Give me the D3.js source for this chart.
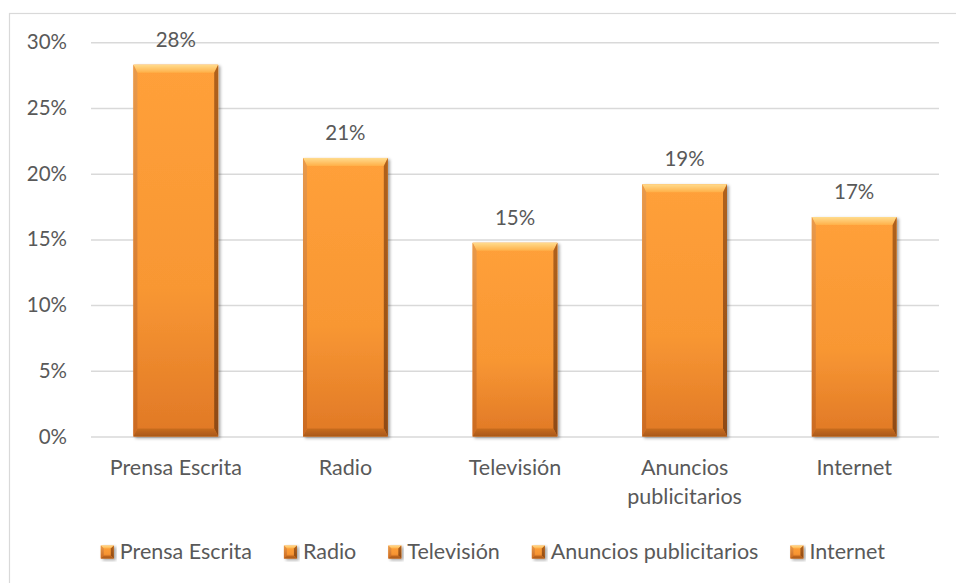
<!DOCTYPE html>
<html>
<head>
<meta charset="utf-8">
<script src="https://cdn.jsdelivr.net/npm/d3@7"></script>
<style>
  html, body { margin: 0; padding: 0; background: #fff; }
  svg { display: block; font-family: Lato, "Open Sans", sans-serif; }
</style>
</head>
<body>
<svg id="chart" width="956" height="583"></svg>
<script>
// Media categories and share of responses
const categories = ["Prensa Escrita", "Radio", "Televisión", "Anuncios publicitarios", "Internet"];
const values = [0.283, 0.212, 0.1475, 0.192, 0.167];
// Axis category labels, wrapped into lines
const categoryLines = [["Prensa Escrita"], ["Radio"], ["Televisión"], ["Anuncios", "publicitarios"], ["Internet"]];
const yTicks = [0, 0.05, 0.10, 0.15, 0.20, 0.25, 0.30];

const svg = d3.select("#chart");
const W = 956, H = 583;
const plot = { left: 91, right: 939, top: 42.3, bottom: 436.5 };
const textColor = "#595959";
const numSize = 20.5, labelSize = 21.5;
const fmt = d3.format(".0%");

// Outer chart frame
svg.append("rect")
  .attr("x", 9.5).attr("y", 13.5)
  .attr("width", W).attr("height", H)
  .attr("fill", "#fff").attr("stroke", "#D9D9D9").attr("stroke-width", 1.2);

const defs = svg.append("defs");

function grad(id, stops) {
  const g = defs.append("linearGradient").attr("id", id)
    .attr("x1", 0).attr("y1", 0).attr("x2", 0).attr("y2", 1);
  stops.forEach(s => g.append("stop").attr("offset", s[0]).attr("stop-color", s[1]));
}
grad("face", [[0, "#FFA03A"], [0.6, "#F89733"], [1, "#E07826"]]);
grad("topBevel", [[0, "#FFDC8E"], [1, "#FFB048"]]);
grad("leftBevel", [[0, "#E89A4C"], [1, "#CB6A20"]]);
grad("rightBevel", [[0, "#B0621F"], [1, "#8E4A14"]]);
grad("bottomBevel", [[0, "#C86C20"], [1, "#A95818"]]);

const shadow = defs.append("filter").attr("id", "shadow")
  .attr("x", "-20%").attr("y", "-10%").attr("width", "140%").attr("height", "130%");
shadow.append("feDropShadow").attr("dx", 2).attr("dy", 1.5)
  .attr("stdDeviation", 1.6).attr("flood-color", "#000").attr("flood-opacity", 0.35);

// Scales
const x = d3.scaleBand().domain(categories)
  .range([plot.left, plot.right]).paddingInner(0.5).paddingOuter(0.25);
const y = d3.scaleLinear().domain([0, 0.30]).range([plot.bottom, plot.top]);

// Gridlines and y tick labels
const yAxis = d3.axisLeft(y).tickValues(yTicks).tickFormat(fmt)
  .tickSize(-(plot.right - plot.left)).tickPadding(24);
const gy = svg.append("g").attr("transform", `translate(${plot.left},0)`).call(yAxis);
gy.select(".domain").remove();
gy.selectAll(".tick line").attr("stroke", "#D9D9D9").attr("stroke-width", 1.5);
gy.selectAll(".tick text")
  .attr("fill", textColor).attr("font-size", numSize)
  .attr("font-family", "Lato, sans-serif");

// Bevelled block: face plus four edge facets
function bevelBlock(g, x0, y0, w, h, tb, sb) {
  const x1 = x0 + w, y1 = y0 + h;
  g.append("rect").attr("x", x0).attr("y", y0).attr("width", w).attr("height", h)
    .attr("fill", "url(#face)");
  const poly = (pts, fill) => g.append("polygon")
    .attr("points", pts.map(p => p.join(",")).join(" ")).attr("fill", fill);
  poly([[x0, y0], [x1, y0], [x1 - sb, y0 + tb], [x0 + sb, y0 + tb]], "url(#topBevel)");
  poly([[x0, y0], [x0 + sb, y0 + tb], [x0 + sb, y1 - tb], [x0, y1]], "url(#leftBevel)");
  poly([[x1, y0], [x1, y1], [x1 - sb, y1 - tb], [x1 - sb, y0 + tb]], "url(#rightBevel)");
  poly([[x0, y1], [x0 + sb, y1 - tb], [x1 - sb, y1 - tb], [x1, y1]], "url(#bottomBevel)");
}

// Bars
const bars = svg.append("g").selectAll("g.bar")
  .data(categories.map((c, i) => ({ c, v: values[i] })))
  .join("g").attr("class", "bar").attr("filter", "url(#shadow)");
bars.each(function (d) {
  const g = d3.select(this);
  bevelBlock(g, x(d.c), y(d.v), x.bandwidth(), y(0) - y(d.v), 8, 4);
});

// Value labels
svg.append("g").selectAll("text")
  .data(categories.map((c, i) => ({ c, v: values[i] })))
  .join("text")
  .attr("x", d => x(d.c) + x.bandwidth() / 2)
  .attr("y", d => y(d.v) - 18)
  .attr("text-anchor", "middle")
  .attr("fill", textColor).attr("font-size", numSize)
  .text(d => fmt(d.v));

// Category labels
const xl = svg.append("g").selectAll("text")
  .data(categories.map((c, i) => ({ c, lines: categoryLines[i] })))
  .join("text")
  .attr("x", d => x(d.c) + x.bandwidth() / 2)
  .attr("y", 474.5)
  .attr("text-anchor", "middle")
  .attr("fill", textColor).attr("font-size", labelSize);
xl.selectAll("tspan").data(d => d.lines.map(l => ({ l, cx: x(d.c) + x.bandwidth() / 2 })))
  .join("tspan")
  .attr("x", t => t.cx)
  .attr("dy", (t, i) => i === 0 ? 0 : 29)
  .text(t => t.l);

// Legend
const legend = svg.append("g");
const items = legend.selectAll("g").data(categories).join("g");
items.each(function (c) {
  const g = d3.select(this);
  const m = g.append("g").attr("filter", "url(#shadow)");
  bevelBlock(m, 0, -13, 13, 13, 3, 3);
  g.append("text").attr("x", 19).attr("y", 0)
    .attr("fill", textColor).attr("font-size", labelSize).text(c);
});
let offset = 0;
const widths = [];
items.each(function () { widths.push(this.getBBox().width); });
const gap = 32;
const total = d3.sum(widths) + gap * (widths.length - 1);
const startX = 493 - total / 2;
items.attr("transform", (c, i) => {
  const tx = startX + offset;
  offset += widths[i] + gap;
  return `translate(${tx},558.5)`;
});
</script>
</body>
</html>
